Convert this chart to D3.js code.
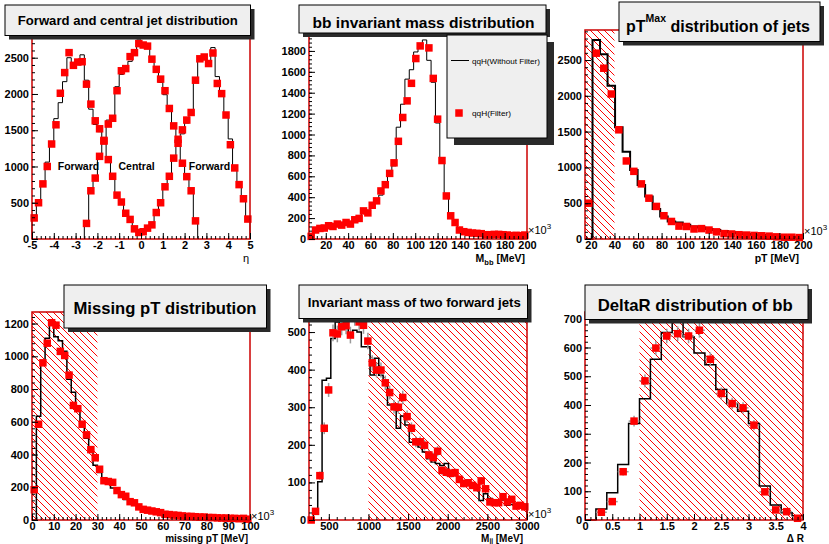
<!DOCTYPE html>
<html>
<head>
<meta charset="utf-8">
<script src="https://cdn.jsdelivr.net/npm/d3@7"></script>
<style>
body { margin: 0; background: #fff; }
svg { display: block; font-family: "Liberation Sans", Arial, Helvetica, sans-serif; }
</style>
</head>
<body>
<svg id="chart" width="829" height="544"></svg>
<script>
// ---- panel 1 : eta of forward / central jets (bins of 0.2) ----
var etaForwardFilter = [290, 500, 760, 1000, 1310, 1575, 2010, 2295, 2570, 2395, 2440, 2445, 2135, 1860, 1630, 1520, 1350, 1095, 865, 605,
  510, 355, 270, 140, 90, 100, 150, 195, 365, 500, 720, 865, 1115, 1320, 1505, 1640, 1745, 2190, 2485, 2510,
  2420, 2565, 2145, 2005, 1710, 1300, 980, 750, 555, 275];
var etaForwardAll = [330, 520, 770, 1060, 1330, 1660, 1880, 2170, 2500, 2380, 2460, 2540, 2190, 1790, 1580, 1480, 1370, 1130, 860, 640,
  490, 380, 250, 150, 110, 95, 140, 230, 370, 520, 700, 880, 1110, 1310, 1450, 1600, 1770, 2200, 2480, 2500,
  2450, 2640, 2240, 2000, 1720, 1380, 990, 730, 540, 290];
var etaCentralFilter = [215, 665, 840, 1140, 1360, 1585, 1665, 2045, 2320, 2350, 2515, 2570, 2695, 2675, 2660, 2480, 2340, 2205, 2045, 1800,
  1560, 1375, 1045, 860, 665, 250];
var etaCentralAll = [230, 660, 850, 1130, 1400, 1640, 1700, 2100, 2270, 2380, 2450, 2600, 2745, 2700, 2650, 2500, 2330, 2160, 1990, 1760,
  1580, 1380, 1070, 860, 680, 260];
var etaTicks = [-5, -4, -3, -2, -1, 0, 1, 2, 3, 4, 5];
var etaCountTicks = [0, 500, 1000, 1500, 2000, 2500];
var etaNotes = [{text: "Forward", eta: -2.87}, {text: "Central", eta: -0.2}, {text: "Forward", eta: 3.14}];

// ---- panel 2 : bb invariant mass (50 bins, 5..200) ----
var mbbFilter = [25, 86, 101, 105, 127, 120, 143, 133, 158, 143, 184, 197, 269, 250, 323, 365, 460, 520, 628, 729,
  935, 1163, 1322, 1490, 1727, 1848, null, 1829, 1537, 1147, 751, 412, 222, 158, 86, 70, 63, 57, 54, 51,
  41, 41, 44, 44, 41, 38, 32, 35, 32, 38];
var mbbAll = [20, 80, 95, 110, 120, 125, 135, 140, 150, 155, 175, 195, 245, 265, 310, 350, 420, 500, 610, 700,
  1070, 1290, 1530, 1620, 1790, 1870, 1905, 1710, 1500, 1110, 740, 400, 215, 150, 90, 72, 62, 55, 52, 50,
  45, 43, 42, 40, 38, 36, 34, 33, 32, 34];
var mbbTicks = [20, 40, 60, 80, 100, 120, 140, 160, 180, 200];
var mbbCountTicks = [0, 200, 400, 600, 800, 1000, 1200, 1400, 1600, 1800];
var legendLabels = ["qqH(Without Filter)", "qqH(Filter)"];

// ---- panel 3 : leading jet pT (29 bins, 15..200) ----
var ptFilter = [500, 2595, 2385, 2025, 1525, 1090, 945, 770, 570, 455, 325, 245, 180, 175, 140, 145, 125, 100, 75, 70,
  60, 55, 50, 45, 40, 30, 25, 25, 20];
var ptAll = [0, 2780, 2580, 2140, 1560, 1220, 965, 755, 595, 420, 315, 245, 230, 200, 175, 160, 140, 125, 110, 95,
  80, 70, 60, 55, 50, 40, 35, 30, 25];
var ptTicks = [20, 40, 60, 80, 100, 120, 140, 160, 180, 200];
var ptCountTicks = [0, 500, 1000, 1500, 2000, 2500];
var ptCut = [15, 40];

// ---- panel 4 : missing pT (50 bins, 0..100) ----
var metFilter = [185, 585, 960, 1080, 1205, 1190, 1030, 1005, 885, 700, 680, 585, 520, 430, 380, 310, 240, 235, 230, 180,
  155, 145, 112, 105, 80, 65, 60, 55, 50, 45, 35, 33, 30, 28, 25, 22, 22, 20, 18, 18,
  15, 15, 13, 12, 12, 10, 10, 8, 10, 5];
var metAll = [0, 634, 955, 1110, 1210, 1120, 1095, 1030, 860, 780, 690, 590, 500, 420, 335, 290, 240, 220, 195, 170,
  145, 125, 115, 105, 85, 70, 65, 60, 55, 50, 30, 30, 28, 25, 22, 20, 18, 17, 16, 15,
  14, 13, 12, 11, 10, 9, 8, 8, 7, 5];
var metTicks = [0, 10, 20, 30, 40, 50, 60, 70, 80, 90, 100];
var metCountTicks = [0, 200, 400, 600, 800, 1000, 1200];
var metCut = [0, 30];

// ---- panel 5 : forward dijet mass (50 bins, 250..3000) ----
var mjjFilter = [0, 23, 118, 244, 346, 498, 495, 514, 517, 492, 540, 527, 518, 476, 418, 399, 399, 365, 339, 301,
  300, 326, 275, 244, 208, 208, 199, 173, 166, 183, 132, 127, 124, 126, 108, 97, 99, 92, 86, 104,
  83, 48, 46, 46, 62, 48, 55, 37, 39, 35];
var mjjAll = [0, 27, 102, 372, 377, 483, 527, 519, 510, 492, 505, 500, 461, 461, 386, 430, 385, 360, 306, 301,
  244, 277, 253, 207, 206, 194, 181, 163, 154, 150, 145, 150, 128, 123, 112, 103, 99, 92, 83, 52,
  70, 57, 54, 50, 53, 39, 41, 36, 35, 34];
var mjjTicks = [500, 1000, 1500, 2000, 2500, 3000];
var mjjCountTicks = [0, 100, 200, 300, 400, 500];
var mjjCut = [1000, 3000];

// ---- panel 6 : DeltaR of bb (20 bins, 0..4) ----
var drFilter = [null, 27, 64, 168, 344, 484, 598, 640, 648, 640, 660, 559, 440, 405, 390, 330, 98, 35, 29, 6];
var drAll = [0, 38, 95, 193, 336, 422, 559, 652, 689, 637, 581, 540, 454, 405, 378, 336, 118, 52, 25, 15];
var drTicks = [0, 0.5, 1, 1.5, 2, 2.5, 3, 3.5, 4];
var drCountTicks = [0, 100, 200, 300, 400, 500, 600, 700];
var drCut = [1, 4];

var svg = d3.select("#chart");
var frameRed = "#cc0000";
var markerSize = 7.5;

// hatch for the cut regions
var pat = svg.append("defs").append("pattern")
    .attr("id", "hatch")
    .attr("patternUnits", "userSpaceOnUse")
    .attr("width", 7).attr("height", 7);
pat.append("path")
    .attr("d", "M0,0L7,7M-1,6L1,8M6,-1L8,1")
    .attr("stroke", "#ff0000")
    .attr("stroke-width", 1);

var panels = [
  {left: 32, right: 250, top: 30, bottom: 239, xmin: -5, xmax: 5, xTicks: etaTicks, xMinor: 0.2,
   yTicks: etaCountTicks, yMinor: 100, lw: 1, expY: 234,
   hists: [{x0: -5, w: 0.2, all: etaForwardAll, filt: etaForwardFilter},
           {x0: -2.6, w: 0.2, all: etaCentralAll, filt: etaCentralFilter}]},
  {left: 309, right: 527, top: 30, bottom: 239, xmin: 5, xmax: 200, xTicks: mbbTicks, xMinor: 4,
   yTicks: mbbCountTicks, yMinor: 40, lw: 1, times1e3: true, expY: 234,
   hists: [{x0: 5, w: 3.9, all: mbbAll, filt: mbbFilter}]},
  {left: 585, right: 803, top: 30, bottom: 239, xmin: 15, xmax: 200, xTicks: ptTicks, xMinor: 4,
   yTicks: ptCountTicks, yMinor: 100, lw: 2, times1e3: true, cut: ptCut, expY: 235,
   hists: [{x0: 15, w: 185 / 29, all: ptAll, filt: ptFilter}]},
  {left: 32, right: 250, top: 312, bottom: 520, xmin: 0, xmax: 100, xTicks: metTicks, xMinor: 2,
   yTicks: metCountTicks, yMinor: 40, lw: 1.5, times1e3: true, cut: metCut, expY: 520,
   hists: [{x0: 0, w: 2, all: metAll, filt: metFilter}]},
  {left: 309, right: 527, top: 312, bottom: 520, xmin: 250, xmax: 3000, xTicks: mjjTicks, xMinor: 100,
   yTicks: mjjCountTicks, yMinor: 20, lw: 1.5, times1e3: true, cut: mjjCut, errors: true, expY: 518,
   hists: [{x0: 250, w: 55, all: mjjAll, filt: mjjFilter}]},
  {left: 585, right: 803, top: 312, bottom: 520, xmin: 0, xmax: 4, xTicks: drTicks, xMinor: 0.1,
   yTicks: drCountTicks, yMinor: 20, lw: 1.5, cut: drCut, errors: true,
   hists: [{x0: 0, w: 0.2, all: drAll, filt: drFilter}]}
];

function minorValues(lo, hi, step) {
  var out = [];
  for (var k = Math.ceil(lo / step - 1e-6); k * step <= hi + 1e-6; k++) out.push(+(k * step).toFixed(6));
  return out;
}

function styleAxis(sel) {
  sel.select(".domain").remove();
  sel.selectAll("line").attr("stroke", "#000");
  sel.selectAll("text")
      .attr("font-family", null)
      .attr("font-size", 11)
      .attr("font-weight", "bold")
      .attr("fill", "#000");
}

function drawPanel(p) {
  var g = svg.append("g");
  var x = d3.scaleLinear().domain([p.xmin, p.xmax]).range([p.left, p.right]);
  var ymax = 1.05 * d3.max(p.hists, function(h) { return d3.max(h.all); });
  var y = d3.scaleLinear().domain([0, ymax]).range([p.bottom, p.top]);
  p.x = x; p.y = y;

  if (p.cut) {
    g.append("rect")
        .attr("x", x(p.cut[0])).attr("y", p.top)
        .attr("width", x(p.cut[1]) - x(p.cut[0]))
        .attr("height", p.bottom - p.top)
        .attr("fill", "url(#hatch)");
  }

  // black step histograms (without filter)
  var line = d3.line()
      .x(function(d) { return x(d[0]); })
      .y(function(d) { return y(d[1]); });
  p.hists.forEach(function(h) {
    var pts = [[h.x0, 0]];
    h.all.forEach(function(v, i) {
      pts.push([h.x0 + i * h.w, v]);
      pts.push([h.x0 + (i + 1) * h.w, v]);
    });
    pts.push([h.x0 + h.all.length * h.w, 0]);
    g.append("path")
        .attr("d", line(pts))
        .attr("fill", "none")
        .attr("stroke", "#000")
        .attr("stroke-width", p.lw);
  });

  // red markers (with filter)
  p.hists.forEach(function(h) {
    var pts = [];
    h.filt.forEach(function(v, i) {
      if (v !== null) pts.push({c: h.x0 + (i + 0.5) * h.w, v: v, hw: h.w / 2});
    });
    if (p.errors) {
      var eg = g.append("g").attr("stroke", "#9a9a9a").attr("stroke-width", 1.5);
      eg.selectAll(".ev").data(pts).enter().append("line")
          .attr("x1", function(d) { return x(d.c); }).attr("x2", function(d) { return x(d.c); })
          .attr("y1", function(d) { return y(d.v - Math.sqrt(d.v)); })
          .attr("y2", function(d) { return y(d.v + Math.sqrt(d.v)); });
      eg.selectAll(".eh").data(pts).enter().append("line")
          .attr("x1", function(d) { return x(d.c - d.hw); }).attr("x2", function(d) { return x(d.c + d.hw); })
          .attr("y1", function(d) { return y(d.v); }).attr("y2", function(d) { return y(d.v); });
    }
    g.selectAll(null).data(pts).enter().append("rect")
        .attr("x", function(d) { return x(d.c) - markerSize / 2; })
        .attr("y", function(d) { return y(d.v) - markerSize / 2; })
        .attr("width", markerSize).attr("height", markerSize)
        .attr("fill", "#ff0000");
  });

  // frame
  g.append("rect")
      .attr("x", p.left).attr("y", p.top)
      .attr("width", p.right - p.left).attr("height", p.bottom - p.top)
      .attr("fill", "none").attr("stroke", frameRed).attr("stroke-width", 1.5);

  // axes, ticks pointing inside the frame
  g.append("g").attr("transform", "translate(0," + p.bottom + ")")
      .call(d3.axisBottom(x).tickValues(minorValues(p.xmin, p.xmax, p.xMinor)).tickSize(-3).tickFormat(""))
      .call(styleAxis);
  g.append("g").attr("transform", "translate(0," + p.bottom + ")")
      .call(d3.axisBottom(x).tickValues(p.xTicks).tickSizeInner(-6).tickSizeOuter(0).tickPadding(2)
            .tickFormat(function(d) { return String(d); }))
      .call(styleAxis);
  g.append("g").attr("transform", "translate(" + p.left + ",0)")
      .call(d3.axisLeft(y).tickValues(minorValues(0, ymax, p.yMinor)).tickSize(-3).tickFormat(""))
      .call(styleAxis);
  g.append("g").attr("transform", "translate(" + p.left + ",0)")
      .call(d3.axisLeft(y).tickValues(p.yTicks).tickSizeInner(-6).tickSizeOuter(0).tickPadding(3)
            .tickFormat(function(d) { return String(d); }))
      .call(styleAxis);

  if (p.times1e3) {
    var t = g.append("text")
        .attr("x", p.right + 1).attr("y", p.expY)
        .attr("font-size", 11).attr("fill", "#000");
    t.append("tspan").text("\u00d710");
    t.append("tspan").attr("font-size", 8).attr("dy", -5).text("3");
  }
}

panels.forEach(drawPanel);

// title boxes
function titleBox(x0, y0, x1, y1, shadow) {
  svg.append("rect")
      .attr("x", x0 + shadow).attr("y", y0 + shadow)
      .attr("width", x1 - x0).attr("height", y1 - y0)
      .attr("fill", "#2a2a2a");
  svg.append("rect")
      .attr("x", x0).attr("y", y0)
      .attr("width", x1 - x0).attr("height", y1 - y0)
      .attr("fill", "#efefef").attr("stroke", "#000").attr("stroke-width", 1);
}

function boldText(x, yb, str, size, len, anchor) {
  var t = svg.append("text")
      .attr("x", x).attr("y", yb)
      .attr("text-anchor", anchor || "middle")
      .attr("font-size", size).attr("font-weight", "bold").attr("fill", "#000")
      .text(str);
  if (len) t.attr("textLength", len).attr("lengthAdjust", "spacingAndGlyphs");
  return t;
}

titleBox(5, 5, 250.5, 35.5, 4);
boldText(127.8, 24.5, "Forward and central jet distribution", 13, 220);

titleBox(299, 5, 546, 33, 4);
boldText(423.5, 27.5, "bb invariant mass distribution", 15.5, 222);

titleBox(619, 2, 820, 41.5, 4);
var t3 = svg.append("text")
    .attr("x", 626).attr("y", 32)
    .attr("font-size", 16).attr("font-weight", "bold").attr("fill", "#000");
t3.append("tspan").text("pT");
t3.append("tspan").attr("font-size", 10.5).attr("dy", -10).text("Max");
t3.append("tspan").attr("dy", 10).text(" distribution of jets");

titleBox(64, 285, 266.5, 328, 4);
boldText(165, 314, "Missing pT distribution", 16.7, 183);

titleBox(299, 285, 527.5, 318.5, 4);
boldText(414.3, 306.5, "Invariant mass of two forward jets", 13, 213);

titleBox(585, 285, 808, 319.5, 4);
boldText(695.2, 310.5, "DeltaR distribution of bb", 16.6, 195);

// panel 1 region labels
var p1 = panels[0];
etaNotes.forEach(function(n) {
  boldText(p1.x(n.eta), p1.y(945), n.text, 10.5);
});

// axis titles
svg.append("text").attr("x", 249).attr("y", 262).attr("text-anchor", "end")
    .attr("font-size", 11).attr("fill", "#000").text("\u03b7");

var a2 = boldText(525, 262, "", 10.5, null, "end");
a2.append("tspan").text("M");
a2.append("tspan").attr("font-size", 7.5).attr("dy", 2.5).text("bb");
a2.append("tspan").attr("dy", -2.5).text(" [MeV]");

boldText(799, 262, "pT [MeV]", 10.5, null, "end");
boldText(248, 542, "missing pT [MeV]", 10, null, "end");

var a5 = boldText(523, 542, "", 10, null, "end");
a5.append("tspan").text("M");
a5.append("tspan").attr("font-size", 6.5).attr("dy", 0.5).text("jj");
a5.append("tspan").attr("dy", -0.5).text(" [MeV]");

boldText(804, 542, "\u0394 R", 10, null, "end");

// legend of panel 2
titleBox(447, 35, 547, 138, 7);
svg.append("line")
    .attr("x1", 451).attr("x2", 469).attr("y1", 60.5).attr("y2", 60.5)
    .attr("stroke", "#000").attr("stroke-width", 1);
svg.append("text").attr("x", 472).attr("y", 63.5)
    .attr("font-size", 8).attr("fill", "#000")
    .attr("textLength", 68).attr("lengthAdjust", "spacingAndGlyphs")
    .text(legendLabels[0]);
svg.append("rect")
    .attr("x", 459 - markerSize / 2).attr("y", 113 - markerSize / 2)
    .attr("width", markerSize).attr("height", markerSize)
    .attr("fill", "#ff0000");
svg.append("text").attr("x", 472).attr("y", 116)
    .attr("font-size", 8).attr("fill", "#000")
    .attr("textLength", 39).attr("lengthAdjust", "spacingAndGlyphs")
    .text(legendLabels[1]);
</script>
</body>
</html>
